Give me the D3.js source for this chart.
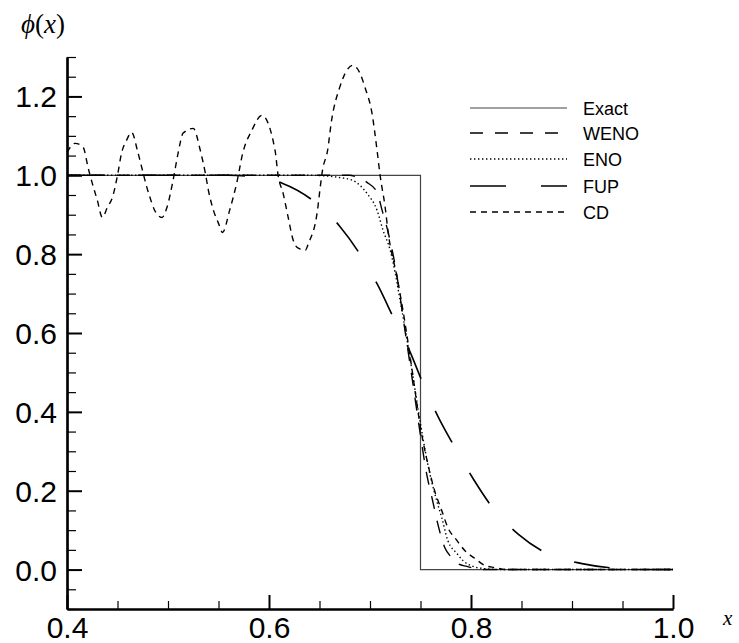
<!DOCTYPE html>
<html>
<head>
<meta charset="utf-8">
<script src="https://cdn.jsdelivr.net/npm/d3@7"></script>
<style>
  body { margin: 0; background: #fff; }
  svg { display: block; }
</style>
</head>
<body>
<main></main>
<script>
// series as [x, phi] pairs
const exact = [[0.4, 1], [0.75, 1], [0.75, 0], [1.0, 0]]
const weno = [[0.40, 1.0], [0.68, 1.0], [0.685, 0.997], [0.697, 0.982], [0.707, 0.957], [0.712, 0.911],
  [0.718, 0.855], [0.725, 0.77], [0.735, 0.60], [0.742, 0.48], [0.750, 0.34], [0.756, 0.244],
  [0.762, 0.175], [0.767, 0.117], [0.774, 0.056], [0.781, 0.030], [0.787, 0.015], [0.796, 0.008],
  [0.81, 0.0], [1.0, 0.0]]
const eno = [[0.40, 1.0], [0.64, 1.0], [0.653, 0.999], [0.668, 0.995], [0.683, 0.987], [0.697, 0.954],
  [0.707, 0.911], [0.713, 0.86], [0.720, 0.81], [0.723, 0.777], [0.730, 0.68], [0.740, 0.53],
  [0.750, 0.37], [0.757, 0.27], [0.766, 0.175], [0.771, 0.132], [0.777, 0.074], [0.786, 0.041],
  [0.792, 0.023], [0.802, 0.008], [0.811, 0.003], [0.83, 0.0], [1.0, 0.0]]
const fup = [[0.40, 1.0], [0.56, 1.0], [0.59, 0.995], [0.613, 0.98], [0.644, 0.935], [0.670, 0.871],
  [0.690, 0.80], [0.708, 0.72], [0.723, 0.64], [0.739, 0.556], [0.752, 0.475], [0.767, 0.39],
  [0.784, 0.31], [0.802, 0.231], [0.822, 0.155], [0.847, 0.089], [0.875, 0.041], [0.910, 0.015],
  [0.945, 0.003], [0.980, 0.0], [1.0, 0.0]]
const cd = [[0.400, 1.058], [0.408, 1.081], [0.416, 1.071], [0.421, 1.018], [0.425, 0.980], [0.430, 0.937],
  [0.435, 0.893], [0.440, 0.919], [0.445, 0.944], [0.450, 1.000], [0.454, 1.056], [0.459, 1.089],
  [0.464, 1.109], [0.470, 1.060], [0.474, 1.020], [0.479, 0.970], [0.482, 0.945], [0.487, 0.910],
  [0.494, 0.893], [0.499, 0.919], [0.505, 0.987], [0.510, 1.056], [0.515, 1.107], [0.525, 1.119],
  [0.532, 1.063], [0.537, 1.005], [0.540, 0.962], [0.545, 0.911], [0.550, 0.878], [0.554, 0.855],
  [0.561, 0.911], [0.568, 0.980], [0.574, 1.056], [0.583, 1.114], [0.593, 1.152], [0.606, 1.063],
  [0.609, 1.000], [0.614, 0.954], [0.619, 0.893], [0.624, 0.835], [0.629, 0.815], [0.636, 0.810],
  [0.639, 0.827], [0.648, 0.911], [0.650, 0.954], [0.653, 1.013], [0.658, 1.063], [0.662, 1.140],
  [0.670, 1.223], [0.677, 1.266], [0.683, 1.279], [0.690, 1.259], [0.695, 1.223], [0.702, 1.157],
  [0.707, 1.063], [0.710, 1.000], [0.715, 0.919], [0.718, 0.855], [0.727, 0.739], [0.735, 0.62],
  [0.742, 0.50], [0.750, 0.36], [0.758, 0.26], [0.764, 0.20], [0.771, 0.150], [0.777, 0.107],
  [0.786, 0.074], [0.794, 0.048], [0.804, 0.028], [0.814, 0.010], [0.824, 0.005], [0.834, 0.0],
  [1.0, 0.0]]

const legendNames = ["Exact", "WENO", "ENO", "FUP", "CD"]
const xMajor = [0.4, 0.6, 0.8, 1.0]
const yMajor = [0.0, 0.2, 0.4, 0.6, 0.8, 1.0, 1.2]

const W = 739, H = 643

let svg = d3.select('main')
    .append('svg')
    .attr('width', W)
    .attr('height', H)

let x = d3.scaleLinear().domain([0.4, 1.0]).range([67, 673])
let y = d3.scaleLinear().domain([-0.1, 1.3]).range([609, 57])

let xMinor = d3.range(0.4, 1.0001, 0.05).filter(v => !xMajor.some(m => Math.abs(m - v) < 1e-6))
let yMinor = d3.range(-0.1, 1.3001, 0.05).filter(v => !yMajor.some(m => Math.abs(m - v) < 1e-6))

// series styles
let styles = {
  Exact: { data: exact, dash: null, width: 1.2, color: '#444', curve: d3.curveLinear },
  WENO: { data: weno, dash: '13,12', width: 1.4, color: '#000', curve: d3.curveMonotoneX },
  ENO: { data: eno, dash: '1.4,2.6', width: 1.4, color: '#000', curve: d3.curveMonotoneX },
  FUP: { data: fup, dash: '36,35', width: 1.6, color: '#000', curve: d3.curveMonotoneX },
  CD: { data: cd, dash: '6,5', width: 1.4, color: '#000', curve: d3.curveMonotoneX }
}

//curves
legendNames.forEach(name => {
  let s = styles[name]
  let line = d3.line().x(d => x(d[0])).y(d => y(d[1])).curve(s.curve)
  svg.append('path')
      .attr('d', line(s.data))
      .style('fill', 'none')
      .style('stroke', s.color)
      .style('stroke-width', s.width)
      .style('stroke-dasharray', s.dash)
})

//axes
let fmt = d3.format('.1f')
let gx = svg.append('g').attr('transform', `translate(0,${y(-0.1)})`)
gx.call(d3.axisBottom(x).tickValues(xMajor).tickFormat(fmt).tickSize(-14).tickSizeOuter(0).tickPadding(8))
gx.append('g').call(d3.axisBottom(x).tickValues(xMinor).tickFormat('').tickSize(-8).tickSizeOuter(0))
let gy = svg.append('g').attr('transform', `translate(${x(0.4)},0)`)
gy.call(d3.axisLeft(y).tickValues(yMajor).tickFormat(fmt).tickSize(-15).tickSizeOuter(0).tickPadding(10))
gy.append('g').call(d3.axisLeft(y).tickValues(yMinor).tickFormat('').tickSize(-9).tickSizeOuter(0))

svg.selectAll('.domain').style('stroke', '#000').style('stroke-width', 2.2)
svg.selectAll('.tick line').style('stroke', '#000').style('stroke-width', 1.2)
gx.selectAll(':scope > .tick line').style('stroke-width', 2)
gy.selectAll(':scope > .tick line').style('stroke-width', 2)
svg.selectAll('.tick text')
    .style('font-family', 'Liberation Sans, Arial, sans-serif')
    .style('font-size', '30px')
    .style('fill', '#000')
gy.selectAll('.tick text').attr('dy', '0.35em')

//axis titles
let title = svg.append('text')
    .attr('x', 21)
    .attr('y', 33)
    .style('font-family', 'Liberation Serif, Times New Roman, serif')
    .style('font-size', '27px')
title.append('tspan').style('font-style', 'italic').text('ϕ')
title.append('tspan').text('(')
title.append('tspan').style('font-style', 'italic').text('x')
title.append('tspan').text(')')

svg.append('text')
    .attr('x', 723)
    .attr('y', 625)
    .style('font-family', 'Liberation Serif, Times New Roman, serif')
    .style('font-size', '21px')
    .style('font-style', 'italic')
    .text('x')

//legend
let legendY = [108, 133, 159, 186, 212]
legendNames.forEach((name, i) => {
  let s = styles[name]
  svg.append('line')
      .attr('x1', 470)
      .attr('x2', 567)
      .attr('y1', legendY[i])
      .attr('y2', legendY[i])
      .style('stroke', s.color)
      .style('stroke-width', s.width)
      .style('stroke-dasharray', s.dash)
  svg.append('text')
      .attr('x', 583)
      .attr('y', legendY[i] + 6.5)
      .style('font-family', 'Liberation Sans, Arial, sans-serif')
      .style('font-size', '18px')
      .text(name)
})
</script>
</body>
</html>
